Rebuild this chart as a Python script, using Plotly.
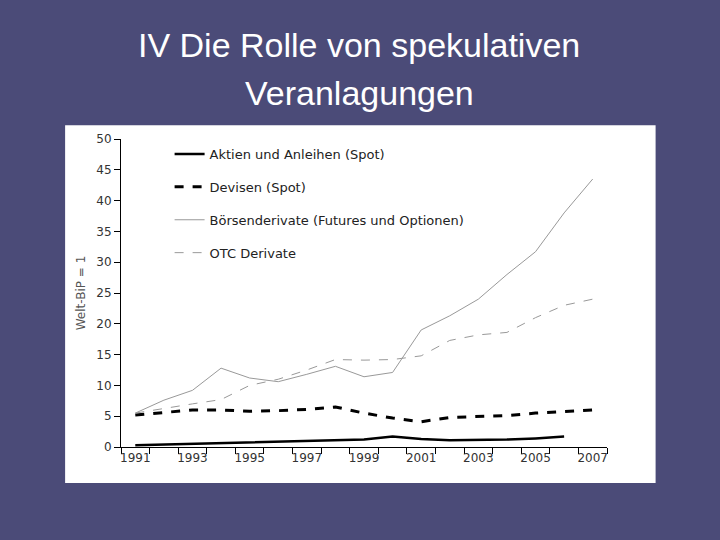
import plotly.graph_objects as go

years = list(range(1991, 2008))
boersen = [5.5, 7.6, 9.2, 12.8, 11.2, 10.6, 11.8, 13.1, 11.4, 12.1, 19.0, 21.3, 24.0, 28.0, 31.7, 38.0, 43.5]
otc = [5.5, 6.3, 7.0, 7.7, 10.0, 11.0, 12.5, 14.2, 14.1, 14.2, 14.8, 17.3, 18.2, 18.6, 21.0, 23.0, 24.0]
devisen = [5.2, 5.6, 6.0, 6.0, 5.8, 5.9, 6.1, 6.5, 5.5, 4.7, 4.1, 4.8, 5.0, 5.1, 5.5, 5.8, 6.0]
aktien = [0.3, 0.4, 0.5, 0.6, 0.7, 0.9, 1.0, 1.1, 1.2, 1.7, 1.3, 1.1, 1.1, 1.2, 1.4, 1.7, None]
title_lines = ["IV Die Rolle von spekulativen", "Veranlagungen"]

fig = go.Figure()
series = [
    ("Aktien und Anleihen (Spot)", aktien, dict(color="black", width=2.5)),
    ("Devisen (Spot)", devisen, dict(color="black", width=3, dash="dash")),
    ("Börsenderivate (Futures und Optionen)", boersen, dict(color="#999999", width=1)),
    ("OTC Derivate", otc, dict(color="#999999", width=1, dash="dash")),
]
for i, (name, vals, line) in enumerate(series):
    fig.add_trace(go.Scatter(x=years, y=vals, name=name, mode="lines",
                             line=line, legendgroup=str(i)))

# slide title, two centred lines
for text, ypos in zip(title_lines, [1.305, 1.149]):
    fig.add_annotation(text=text, xref="paper", yref="paper", x=0.49, y=ypos,
                       showarrow=False, xanchor="center", yanchor="middle",
                       font=dict(family="Liberation Sans, Arial", size=34, color="white"))

fig.update_layout(
    width=720, height=540,
    margin=dict(l=121, r=113, t=139, b=93),
    paper_bgcolor="#4b4b78",
    plot_bgcolor="white",
    font=dict(family="DejaVu Sans", color="#333333", size=12),
    legend=dict(x=0.1, y=1.0, xanchor="left", yanchor="top",
                bgcolor="rgba(0,0,0,0)", tracegroupgap=13,
                font=dict(size=13, color="#222222")),
    shapes=[dict(type="rect", xref="paper", yref="paper", layer="below",
                 x0=-0.115, x1=1.1, y0=-0.117, y1=1.045,
                 fillcolor="white", line=dict(width=0))],
)
fig.update_xaxes(
    range=[1990.5, 2007.5], tickvals=list(range(1991, 2008, 2)),
    ticks="", showgrid=False, showline=True, linecolor="black", linewidth=1,
    minor=dict(tickvals=[y + 0.5 for y in range(1990, 2008)], ticks="outside",
               ticklen=6, tickcolor="black"),
    zeroline=False,
)
fig.update_yaxes(
    range=[0, 50], dtick=5, ticks="outside", ticklen=6, tickcolor="black",
    showgrid=False, showline=True, linecolor="black", linewidth=1, zeroline=False,
    title=dict(text="Welt-BiP = 1", font=dict(size=12, color="#555555"), standoff=8),
)

fig.write_html("out.html", config={"displayModeBar": False},
               post_script="document.body.style.margin='0';")
